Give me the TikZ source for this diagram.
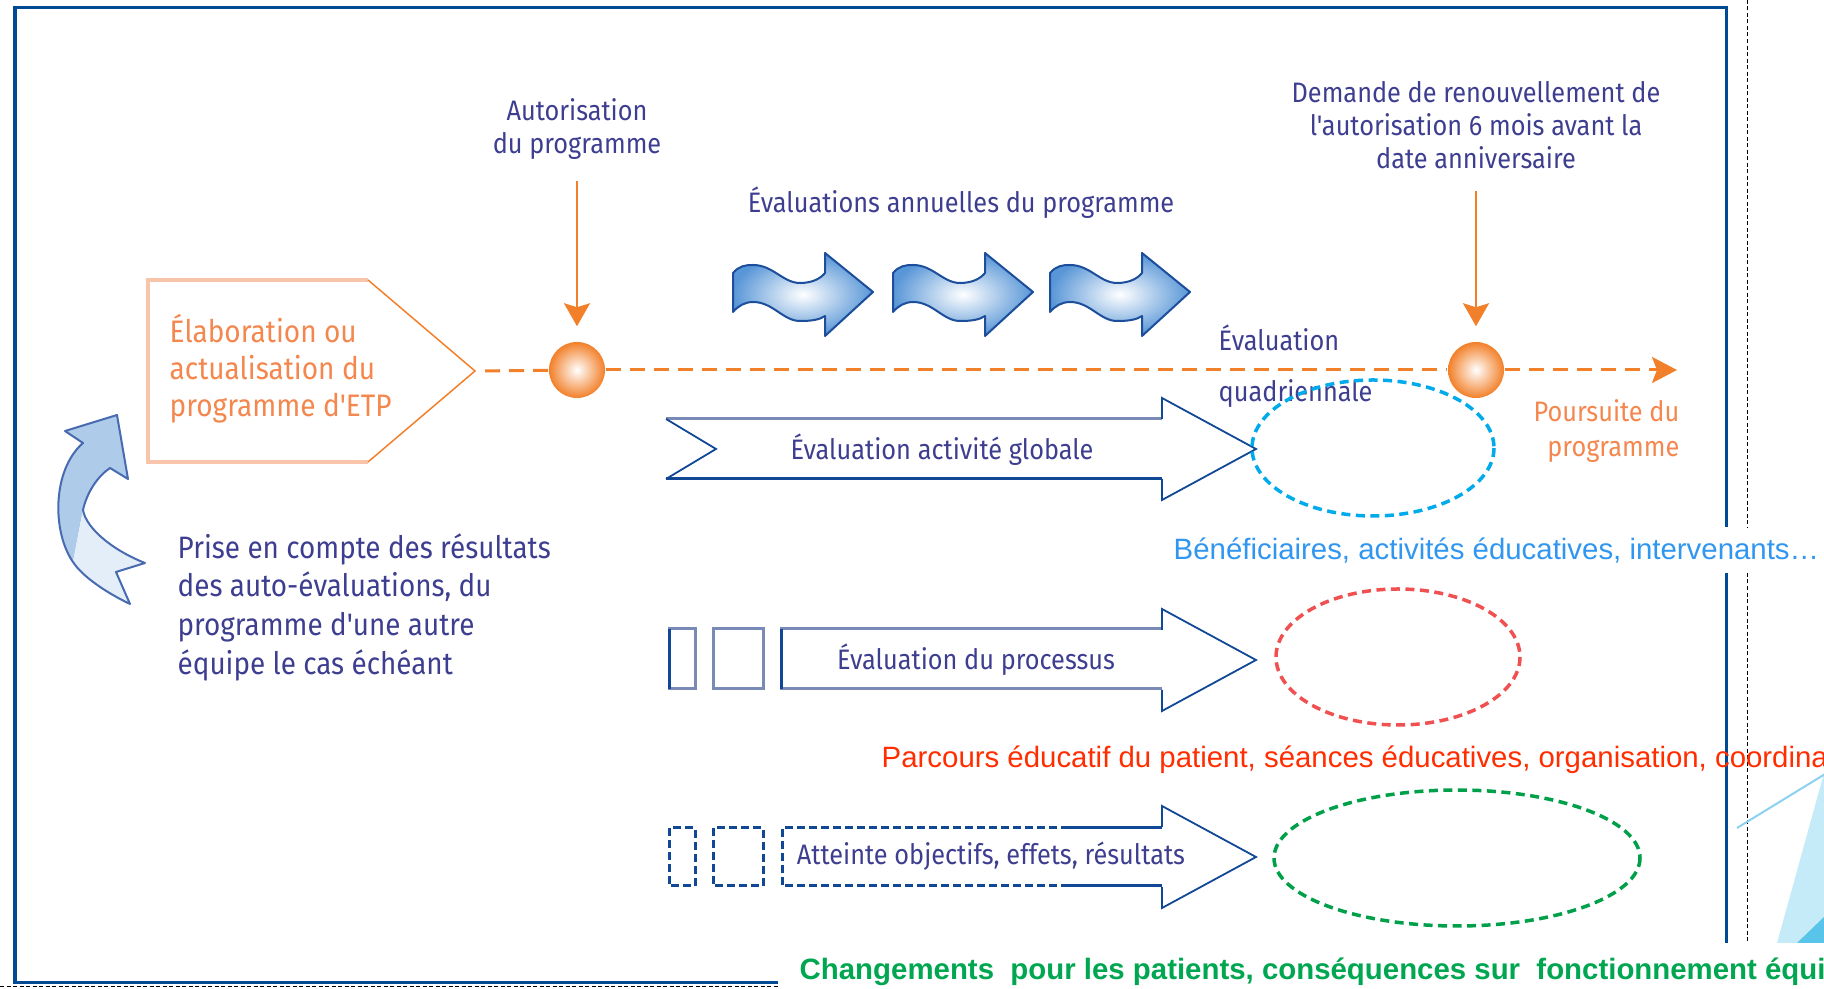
\documentclass[tikz,border=0pt]{standalone}
\usepackage{fontspec}
\setmainfont{Liberation Sans}
\newfontfamily\condfont[FakeStretch=0.9]{Fira Sans}
\usetikzlibrary{arrows.meta}
\definecolor{frameblue}{RGB}{0,74,148}
\definecolor{darkblue}{RGB}{16,72,150}
\definecolor{slate}{RGB}{122,138,182}
\definecolor{tagblue}{RGB}{62,62,145}
\definecolor{lineorange}{RGB}{242,128,42}
\definecolor{boxorange}{RGB}{244,135,78}
\definecolor{salmon}{RGB}{248,196,170}
\definecolor{waveblue}{RGB}{88,150,215}
\definecolor{waveedge}{RGB}{28,78,155}
\definecolor{curledge}{RGB}{72,106,176}
\definecolor{curldeep}{RGB}{175,203,234}
\definecolor{curlpale}{RGB}{228,238,249}
\definecolor{ringcyan}{RGB}{0,170,235}
\definecolor{ringred}{RGB}{240,80,80}
\definecolor{ringgreen}{RGB}{0,160,75}
\definecolor{notecyan}{RGB}{48,150,240}
\definecolor{notered}{RGB}{255,45,0}
\definecolor{notegreen}{RGB}{0,166,80}
\definecolor{skylight}{RGB}{198,235,248}
\definecolor{skydeep}{RGB}{88,196,234}
\definecolor{skyline}{RGB}{140,210,240}
\newcommand{\tagfont}{\condfont\fontsize{8pt}{9.4pt}\selectfont}
\newcommand{\boxfont}{\condfont\fontsize{8.85pt}{10.5pt}\selectfont}
\newcommand{\prisefont}{\condfont\fontsize{8.8pt}{11pt}\selectfont}
\newcommand{\notefont}{\fontsize{8.36pt}{10pt}\selectfont}
\tikzset{
    frame line/.style={draw=frameblue,line width=0.03cm},
    cut line/.style={draw=black,line width=0.01cm,dash pattern=on 0.04cm off 0.025cm},
    tag/.style={text=tagblue,font=\tagfont,inner sep=0pt,align=center},
    orange tag/.style={text=boxorange,inner sep=0pt},
    timeline/.style={draw=lineorange,line width=0.03cm,dash pattern=on 0.15cm off 0.09cm},
    drop/.style={draw=lineorange,line width=0.02cm,
        -{Stealth[length=0.23cm,width=0.26cm,inset=0.04cm]}},
    ball/.style={circle,minimum size=0.56cm,inner sep=0pt,
        shading=radial,inner color=white,outer color=lineorange},
    wavearrow/.style={draw=waveedge,line width=0.02cm,line join=round,
        shading=radial,inner color=white,outer color=waveblue},
    shaft/.style={line width=0.03cm},
    tipline/.style={draw=darkblue,line width=0.018cm,line join=miter},
    dashshaft/.style={draw=darkblue,line width=0.03cm,dash pattern=on 0.08cm off 0.04cm},
    ring/.style={line width=0.035cm,dash pattern=on 0.09cm off 0.055cm},
    note/.style={inner sep=0pt,anchor=west,font=\notefont},
}
\begin{document}
\begin{tikzpicture}[x=0.01cm,y=-0.01cm]
\useasboundingbox (0,0) rectangle (1824,989);
\begin{scope}
\clip (0,0) rectangle (1824,989);
\draw[frame line] (778,983) -- (15,983) -- (15,8) -- (1726,8) -- (1726,527);
\draw[frame line] (1726,573) -- (1726,943);
\draw[cut line] (1747,0) -- (1747,527) (1747,573) -- (1747,943);
\draw[cut line] (0,987) -- (778,987);
\fill[skylight] (1777,943) -- (1824,773) -- (1824,943) -- cycle;
\fill[skydeep] (1797,943) -- (1824,917) -- (1824,943) -- cycle;
\draw[skyline,line width=0.02cm] (1737,828) -- (1830,771);

\draw[salmon,line width=0.04cm] (368,280) -- (148,280) -- (148,462) -- (368,462);
\draw[lineorange,line width=0.015cm] (368,280) -- (475,371) -- (368,462);
\coordinate (tip) at (475,371);
\node[orange tag,font=\boxfont,align=left,anchor=west] (elab) at (169,369)
    {Élaboration ou\\actualisation du\\programme d'ETP};

\node[ball] (ball1) at (577,370) {};
\node[ball] (ball2) at (1476,370) {};
\coordinate (fin) at (1677,370);
\draw[timeline,shorten <=0.1cm] (tip) -- (ball1);
\draw[timeline] (ball1) -- (ball2);
\draw[timeline,-{Stealth[length=0.25cm,width=0.26cm,inset=0.05cm]}] (ball2) -- (fin);

\node[tag] (auto) at (577,129) {Autorisation\\du programme};
\node[tag] (renew) at (1476,125) {Demande de renouvellement de\\l'autorisation 6 mois avant la\\date anniversaire};
\draw[drop,shorten <=0.21cm,shorten >=0.15cm] (auto) -- (ball1);
\draw[drop,shorten <=0.22cm,shorten >=0.15cm] (renew) -- (ball2);
\node[tag] (annual) at (961,203) {Évaluations annuelles du programme};
\node[tag,align=left,anchor=west] (quad) at (1218,366) {Évaluation\\[5pt]quadriennale};
\node[orange tag,font=\tagfont,align=right,anchor=east] (next) at (1680,431) {Poursuite du\\[0.6pt]programme};

\foreach \x in {733,893,1050}
    \draw[wavearrow,shift={(\x,292)}] (0,-19) .. controls (6,-26) and (12,-27) .. (20,-27)
        .. controls (40,-27) and (50,-9) .. (67,-9) .. controls (80,-9) and (88,-14) .. (92,-19)
        -- (92,-39) -- (140,0) -- (92,44) -- (92,24)
        .. controls (86,28) and (78,29) .. (67,29) .. controls (50,29) and (40,10) .. (20,10)
        .. controls (12,10) and (5,14) .. (0,20) -- cycle;

\fill[curldeep] (117,415) -- (128,479) -- (110,468) .. controls (98,476) and (87,492) .. (83,510)
    -- (73,562) .. controls (52,532) and (52,470) .. (83,443) -- (65,431) -- cycle;
\fill[curlpale] (83,510) .. controls (86,528) and (112,550) .. (145,563) -- (116,572) -- (130,604)
    .. controls (105,592) and (82,576) .. (73,562) -- cycle;
\draw[curledge,line width=0.02cm,line join=round] (117,415) -- (128,479) -- (110,468)
    .. controls (98,476) and (87,492) .. (83,510) .. controls (86,528) and (112,550) .. (145,563)
    -- (116,572) -- (130,604) .. controls (105,592) and (82,576) .. (73,562)
    .. controls (52,532) and (52,470) .. (83,443) -- (65,431) -- cycle;
\node[tag,font=\prisefont,align=left,anchor=west] (prise) at (177,607)
    {Prise en compte des résultats\\des auto-évaluations, du\\programme d'une autre\\équipe le cas échéant};

\draw[shaft,slate] (666,419) -- (1162,419);
\draw[shaft,darkblue] (666,479) -- (1162,479);
\draw[tipline] (666,419) -- (716,449) -- (666,479);
\draw[shaft,slate] (669,629) rectangle (695,689);
\draw[shaft,darkblue] (669,629) -- (669,689);
\draw[shaft,slate] (713,629) rectangle (763,689);
\draw[shaft,slate] (1162,629) -- (781,629) -- (781,689) -- (1162,689);
\draw[shaft,darkblue] (781,629) -- (781,689);
\draw[dashshaft] (669,828) rectangle (695,886);
\draw[dashshaft] (713,828) rectangle (763,886);
\draw[dashshaft] (1069,828) -- (782,828) -- (782,886) -- (1069,886);
\draw[shaft,darkblue] (1069,828) -- (1162,828) (1069,886) -- (1162,886);
\foreach \y in {449,660,857}
    \draw[tipline] (1162,\y-30) -- (1162,\y-51) -- (1256,\y) -- (1162,\y+51) -- (1162,\y+30);
\node[tag] (global) at (942,450) {Évaluation activité globale};
\node[tag] (process) at (976,660) {Évaluation du processus};
\node[tag] (reach) at (991,856) {Atteinte objectifs, effets, résultats};

\draw[ring,ringcyan] (1373,448) ellipse [x radius=121,y radius=68];
\draw[ring,ringred] (1398,657) ellipse [x radius=122,y radius=68];
\draw[ring,ringgreen] (1457,858) ellipse [x radius=183,y radius=68];

\node[note,text=notecyan] (benef) at (1173,551) {Bénéficiaires, activités éducatives, intervenants…};
\node[note,text=notered] (parcours) at (881,760)
    {Parcours éducatif du patient, séances éducatives, organisation, coordina};
\node[note,text=notegreen,font=\notefont\bfseries] (change) at (799,972)
    {Changements~ pour les patients, conséquences sur~ fonctionnement équi};
\end{scope}
\end{tikzpicture}
\end{document}
